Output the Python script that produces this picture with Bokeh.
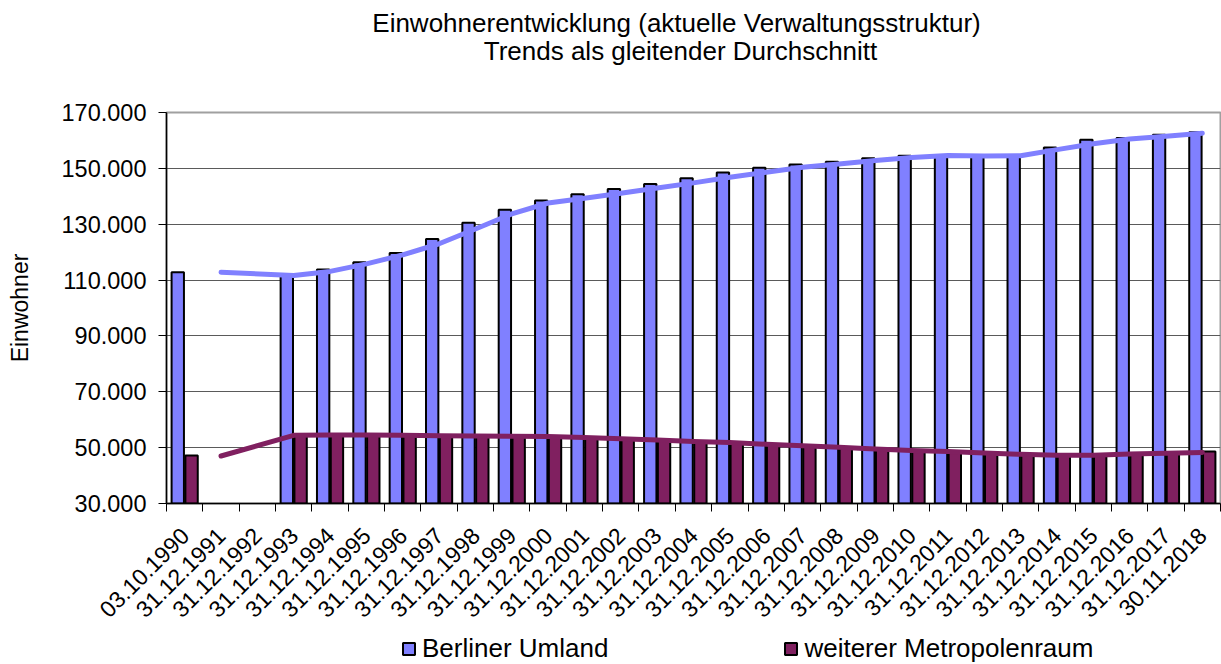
import math
from bokeh.plotting import figure
from bokeh.layouts import column
from bokeh.models import (ColumnDataSource, Range1d, FixedTicker, Legend, LegendItem, Label)
from bokeh.embed import file_html
from bokeh.resources import INLINE

categories = ["03.10.1990", "31.12.1991", "31.12.1992"] + ["31.12.%d" % y for y in range(1993, 2018)] + ["30.11.2018"]

umland = [112800, None, None, 111600, 113800, 116400, 119700, 124700, 130500, 135200, 138500,
          140700, 142600, 144400, 146500, 148500, 150200, 151400, 152400, 153600, 154500,
          154300, 154300, 154600, 157500, 160200, 160900, 162000, 162900]
metro = [47200, None, None, 54500, 54400, 54500, 54300, 54200, 54100, 54000, 53900,
         53500, 53000, 52500, 52000, 51600, 51000, 50500, 49800, 49300, 48700,
         48500, 47800, 47400, 47200, 47500, 47900, 48200, 48600]
umland_trend = [None, 112800, None, 111600, 113100, 115800, 119000, 123000, 128300, 133700, 137600,
                139300, 141100, 143000, 144800, 146800, 148600, 150400, 151600, 152800, 153900,
                154600, 154400, 154500, 156700, 158800, 160500, 161500, 162600]
metro_trend = [None, 47000, None, 54400, 54500, 54500, 54400, 54300, 54200, 54100, 54000,
               53600, 53200, 52700, 52200, 51800, 51200, 50700, 50100, 49500, 49000,
               48600, 48100, 47600, 47300, 47300, 47700, 48000, 48300]
y_ticks = [30000, 50000, 70000, 90000, 110000, 130000, 150000, 170000]
title_lines = ["Einwohnerentwicklung (aktuelle Verwaltungsstruktur)", "Trends als gleitender Durchschnitt"]
series_names = ["Berliner Umland", "weiterer Metropolenraum"]

FONT = "Liberation Sans"
BLUE = "#8080FF"
MAROON = "#802060"
W = 1221
FRAME_LEFT = 166

n = len(categories)
centers = [i + 0.5 for i in range(n)]
nan = float("nan")

# ---------------- title strip ----------------
tf = figure(width=W, height=70, x_range=Range1d(0, 1), y_range=Range1d(0, 1),
            output_backend="svg", toolbar_location=None, title=None, min_border=0,
            x_axis_location=None, y_axis_location=None, outline_line_color=None)
tf.grid.visible = False
tf.add_layout(Label(x=676 - FRAME_LEFT, y=48, x_units="screen", y_units="screen", text=title_lines[0],
                    text_align="center", text_baseline="middle", text_font=FONT,
                    text_font_size="26px", text_color="black"))
tf.add_layout(Label(x=680 - FRAME_LEFT, y=20, x_units="screen", y_units="screen", text=title_lines[1],
                    text_align="center", text_baseline="middle", text_font=FONT,
                    text_font_size="26px", text_color="black"))

# ---------------- main chart ----------------
bar_src = ColumnDataSource(dict(
    xb=[i + 0.31 for i in range(n)],
    xm=[i + 0.69 for i in range(n)],
    ub=[nan if v is None else v for v in umland],
    mb=[nan if v is None else v for v in metro],
))
ut = [(c, v) for c, v in zip(centers, umland_trend) if v is not None]
mt = [(c, v) for c, v in zip(centers, metro_trend) if v is not None]

p = figure(width=W, height=564, x_range=Range1d(0, n), y_range=Range1d(30000, 170000),
           output_backend="svg", toolbar_location=None, title=None,
           min_border_left=FRAME_LEFT, min_border_right=1, min_border_top=42, min_border_bottom=131)

p.vbar(x="xb", top="ub", bottom=30000, width=0.34, source=bar_src,
       fill_color=BLUE, line_color="black", line_width=2)
p.vbar(x="xm", top="mb", bottom=30000, width=0.34, source=bar_src,
       fill_color=MAROON, line_color="black", line_width=2)

p.line([a for a, b in ut], [b for a, b in ut], line_color=BLUE, line_width=5,
       line_cap="round", line_join="round")
p.line([a for a, b in mt], [b for a, b in mt], line_color=MAROON, line_width=5,
       line_cap="round", line_join="round")

xax = p.below[0]
xax.ticker = FixedTicker(ticks=centers, minor_ticks=list(range(n + 1)))
xax.major_label_overrides = {c: lab for c, lab in zip(centers, categories)}
xax.major_label_orientation = math.pi / 4
xax.major_tick_in = 0
xax.major_tick_out = 0
xax.minor_tick_in = 0
xax.minor_tick_out = 8
xax.minor_tick_line_color = "black"
xax.major_label_standoff = 20
xax.axis_line_color = "black"
xax.axis_line_width = 1.5
xax.major_label_text_font = FONT
xax.major_label_text_font_size = "23px"
xax.major_label_text_color = "black"

yax = p.left[0]
yax.ticker = FixedTicker(ticks=y_ticks)
yax.major_label_overrides = {t: "{:,}".format(t).replace(",", ".") for t in y_ticks}
yax.major_tick_in = 0
yax.major_tick_out = 8
yax.major_tick_line_color = "black"
yax.minor_tick_line_color = None
yax.major_label_standoff = 12
yax.axis_line_color = "black"
yax.axis_line_width = 1.5
yax.axis_label = "Einwohner"
yax.axis_label_standoff = 26
yax.axis_label_text_font_style = "normal"
yax.axis_label_text_font = FONT
yax.axis_label_text_font_size = "23px"
yax.axis_label_text_color = "black"
yax.major_label_text_font = FONT
yax.major_label_text_font_size = "23.5px"
yax.major_label_text_color = "black"

p.xgrid.grid_line_color = None
p.ygrid.grid_line_color = "#5a5a5a"
p.ygrid.grid_line_width = 1
p.outline_line_color = "#A0A0A0"
p.outline_line_width = 2

# ---------------- legend strip ----------------
lf = figure(width=W, height=30, x_range=Range1d(0, 1), y_range=Range1d(0, 1),
            output_backend="svg", toolbar_location=None, title=None, min_border=0,
            x_axis_location=None, y_axis_location=None, outline_line_color=None)
lf.grid.visible = False
dummy = ColumnDataSource(dict(x=[nan], top=[nan]))
lb = lf.vbar(x="x", top="top", width=0.1, source=dummy, fill_color=BLUE, line_color="black", line_width=2)
lm = lf.vbar(x="x", top="top", width=0.1, source=dummy, fill_color=MAROON, line_color="black", line_width=2)
legend = Legend(items=[LegendItem(label=series_names[0], renderers=[lb]),
                       LegendItem(label=series_names[1], renderers=[lm])],
                location=(401 - FRAME_LEFT, 0), orientation="horizontal",
                label_text_font=FONT, label_text_font_size="26px", label_text_color="black",
                glyph_width=15, glyph_height=15, label_standoff=6, spacing=175,
                padding=0, margin=0, border_line_color=None, background_fill_alpha=0)
lf.add_layout(legend, "center")

layout = column(tf, p, lf, spacing=0)
open("out.html", "w").write(file_html(layout, INLINE))
